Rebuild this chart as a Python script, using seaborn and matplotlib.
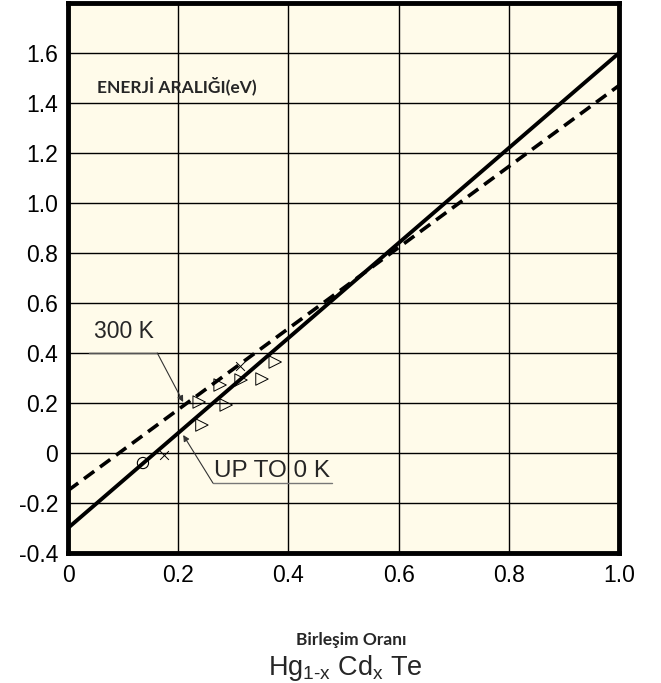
import matplotlib
matplotlib.use("Agg")
import matplotlib.pyplot as plt
import seaborn as sns
import pandas as pd

# ---- data ----
composition = [0.0, 1.0]
gap_0K = [-0.30, 1.60]
gap_300K = [-0.15, 1.47]

tri_x = [0.243, 0.238, 0.287, 0.276, 0.314, 0.352, 0.376]
tri_y = [0.112, 0.204, 0.192, 0.272, 0.292, 0.296, 0.364]
cross_x = [0.174, 0.312]
cross_y = [-0.008, 0.348]
circle_x = [0.136]
circle_y = [-0.04]

x_ticks = [0, 0.2, 0.4, 0.6, 0.8, 1.0]
x_ticklabels = ["0", "0.2", "0.4", "0.6", "0.8", "1.0"]
y_ticks = [-0.4, -0.2, 0, 0.2, 0.4, 0.6, 0.8, 1.0, 1.2, 1.4, 1.6]
y_ticklabels = ["-0.4", "-0.2", "0", "0.2", "0.4", "0.6", "0.8", "1.0", "1.2", "1.4", "1.6"]

sns.set_theme(style="white")
plt.rcParams['font.family'] = ['Liberation Sans', 'DejaVu Sans']
plt.rcParams['mathtext.fontset'] = 'custom'
plt.rcParams['mathtext.rm'] = 'Liberation Sans'

fig = plt.figure(figsize=(6.61, 6.83), dpi=100)
ax = fig.add_axes([0.1029, 0.1903, 0.8336, 0.8053])
ax.set_facecolor('#FFFBEA')

lines = pd.DataFrame({'x': composition * 2,
                      'y': gap_0K + gap_300K,
                      'T': ['0K', '0K', '300K', '300K']})
sns.lineplot(data=lines[lines['T'] == '0K'], x='x', y='y', ax=ax,
             color='black', lw=2.8, zorder=3)
sns.lineplot(data=lines[lines['T'] == '300K'], x='x', y='y', ax=ax,
             color='black', lw=2.6, dashes=False, zorder=3,
             linestyle=(0, (3.5, 2.0)))

sns.scatterplot(x=tri_x, y=tri_y, ax=ax, marker='>', s=80,
                facecolor='none', edgecolor='black', linewidth=0.7, zorder=4)
sns.scatterplot(x=cross_x, y=cross_y, ax=ax, marker='x', s=40,
                color='black', linewidth=0.7, zorder=4)
sns.scatterplot(x=circle_x, y=circle_y, ax=ax, marker='o', s=65,
                facecolor='none', edgecolor='black', linewidth=0.8, zorder=4)

ax.set_xlim(0, 1.0)
ax.set_ylim(-0.4, 1.8)
ax.set_xticks(x_ticks)
ax.set_xticklabels(x_ticklabels)
ax.set_yticks(y_ticks)
ax.set_yticklabels(y_ticklabels)
ax.tick_params(axis='both', length=0, labelsize=16.5, pad=7, colors='black')
ax.tick_params(axis='x', pad=8)
ax.grid(True, color='black', lw=1.0)
ax.set_xlabel('')
ax.set_ylabel('')
for s in ax.spines.values():
    s.set_visible(True)
    s.set_color('black')
    s.set_linewidth(3.5)

# annotations
ax.text(0.101, 0.44, '300 K', fontsize=16.5, ha='center', va='bottom')
ax.plot([0.038, 0.162], [0.40, 0.40], color='#555555', lw=1.0, zorder=2)
ax.annotate('', xy=(0.209, 0.204), xytext=(0.162, 0.40),
            arrowprops=dict(arrowstyle='-|>', color='#333333', lw=0.8,
                            mutation_scale=9, shrinkA=0, shrinkB=0))
ax.text(0.37, -0.115, 'UP TO 0 K', fontsize=17.5, ha='center', va='bottom')
ax.plot([0.263, 0.479], [-0.12, -0.12], color='#777777', lw=1.0, zorder=2)
ax.annotate('', xy=(0.209, 0.072), xytext=(0.263, -0.12),
            arrowprops=dict(arrowstyle='-|>', color='#333333', lw=0.8,
                            mutation_scale=9, shrinkA=0, shrinkB=0))

ax.text(0.052, 1.47, 'ENERJİ ARALIĞI(eV)', fontsize=12.5, fontweight='bold',
        family=['Lato', 'DejaVu Sans'], ha='left', va='center')

fig.text(0.531, 1 - 640 / 683, 'Birleşim Oranı', fontsize=12.5, fontweight='bold',
         family=['Lato', 'DejaVu Sans'], ha='center', va='center')
fig.text(0.523, 1 - 668 / 683, r'Hg$_\mathregular{1\text{-}x}$ Cd$_\mathregular{x}$ Te',
         fontsize=19.5, ha='center', va='center')

fig.savefig('out.png', dpi=100)
